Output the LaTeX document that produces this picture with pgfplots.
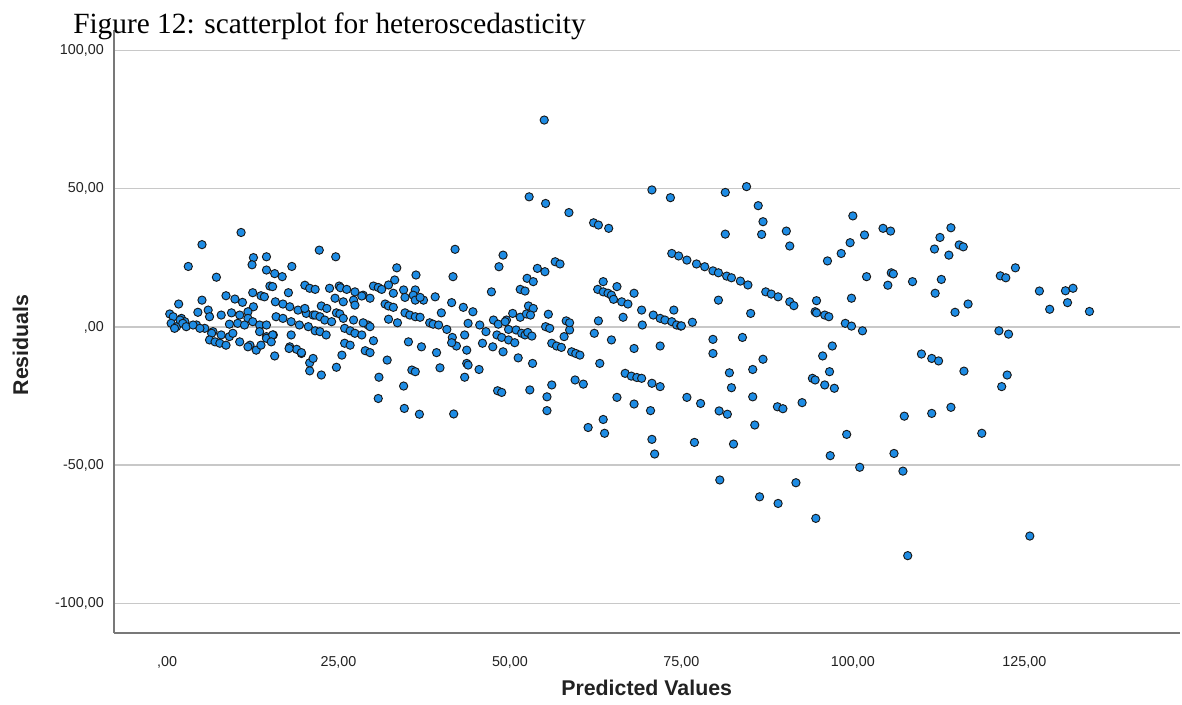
\documentclass[border=0pt]{standalone}
\usepackage{fontspec}
\setmainfont{Liberation Sans}
\newfontfamily\titlefont{Liberation Serif}
\usepackage{pgfplots}
\pgfplotsset{compat=1.18}
\usepackage{pgfplotstable}
\definecolor{ptfill}{RGB}{30,140,228}
\definecolor{ptedge}{RGB}{25,25,25}
\definecolor{gridc}{RGB}{200,200,200}
\definecolor{spinec}{RGB}{120,120,120}
\definecolor{tickc}{RGB}{34,34,34}

\pgfplotstableread{
x y
10.8 34.2
5.1 29.8
3.1 21.9
7.2 18.0
12.6 25.1
12.4 22.5
14.5 25.4
18.2 21.9
14.5 20.6
15.7 19.3
16.8 18.2
15.0 14.8
15.4 14.6
17.7 12.4
20.1 15.1
20.8 14.0
1.7 8.3
5.1 9.7
8.6 11.3
9.9 10.1
11.0 8.9
12.5 12.4
13.7 11.3
14.2 10.9
12.6 7.3
15.8 9.1
16.9 8.3
17.9 7.3
19.1 6.1
20.3 4.9
21.3 4.3
4.5 5.3
6.0 6.1
0.4 4.7
0.9 3.7
0.6 1.3
1.4 0.1
2.1 3.1
2.6 1.9
6.2 3.7
7.9 4.3
9.4 5.1
10.6 4.3
11.8 5.5
11.8 3.1
4.3 0.7
5.5 -0.5
6.7 -1.7
7.9 -2.9
9.1 -3.5
10.6 -5.4
12.1 -6.6
9.1 1.0
10.3 1.3
11.3 0.7
12.5 1.9
13.5 0.7
14.5 0.7
15.9 3.7
16.9 3.1
18.1 1.9
19.3 0.7
20.6 0.1
13.5 -1.7
14.5 -3.5
15.5 -2.9
18.1 -2.9
17.9 -7.2
18.9 -8.1
1.9 2.5
2.3 1.3
2.8 0.1
1.1 -0.5
3.8 0.7
4.8 -0.5
6.5 -2.3
6.2 -4.7
7.0 -5.4
7.7 -5.9
8.6 -6.6
9.6 -2.3
11.8 -7.2
13.0 -8.4
13.7 -6.6
14.5 -4.1
15.4 -2.9
15.2 -5.4
15.7 -10.5
17.8 -7.8
19.6 -9.6
22.2 27.8
24.6 25.4
33.5 21.4
36.3 18.8
33.2 17.0
42.0 28.1
41.7 18.2
47.3 12.7
21.6 13.6
23.7 14.0
25.1 14.8
25.3 14.2
26.2 13.6
27.4 12.7
28.6 11.5
29.6 10.4
24.5 10.4
25.7 9.1
27.2 9.7
27.4 7.9
28.4 11.2
30.1 14.8
30.8 14.3
31.3 13.6
32.3 15.2
33.0 12.2
34.5 13.4
36.2 13.4
37.4 9.7
39.1 10.9
31.8 8.3
32.3 7.6
33.0 7.1
34.7 10.7
35.9 11.5
36.2 9.7
36.9 10.7
34.7 5.1
35.4 4.3
36.2 3.7
36.9 3.5
32.3 2.8
33.6 1.5
40.0 5.1
41.5 8.8
43.2 7.1
44.6 5.5
38.3 1.5
38.8 1.0
39.6 0.7
40.8 -0.9
41.6 -3.8
42.2 -6.9
41.5 -5.7
43.9 1.3
45.6 0.7
46.5 -1.7
46.0 -5.9
47.5 -7.2
43.4 -2.9
43.7 -8.4
43.7 -13.2
43.9 -13.8
45.5 -15.4
43.4 -18.2
48.2 -23.1
41.8 -31.5
20.1 6.7
21.6 4.3
22.3 3.7
23.0 2.5
24.0 1.9
22.5 7.6
23.3 6.7
24.7 5.1
25.2 4.7
21.6 -1.4
22.3 -1.7
23.2 -2.9
25.9 -0.5
26.7 -1.4
27.4 -2.3
28.4 -2.9
29.3 0.7
29.6 0.1
25.7 3.1
27.2 2.5
28.6 1.5
25.9 -5.9
26.7 -6.6
28.9 -8.6
29.6 -9.3
30.1 -5.0
19.6 -9.3
20.8 -13.0
20.8 -15.9
21.3 -11.4
22.5 -17.4
24.7 -14.6
25.5 -10.2
32.1 -12.0
30.9 -18.2
30.8 -25.9
35.2 -5.4
37.1 -7.2
39.3 -9.3
39.8 -14.8
35.7 -15.6
36.2 -16.2
34.5 -21.4
34.6 -29.5
36.8 -31.6
55.0 74.9
52.8 47.1
55.2 44.7
58.6 41.4
62.2 37.7
62.9 36.9
64.4 35.7
70.7 49.6
73.4 46.8
49.0 26.0
48.4 21.8
54.0 21.2
55.1 20.0
56.6 23.6
57.3 22.8
52.5 17.6
53.4 16.4
51.5 13.6
52.2 13.0
52.7 7.6
53.4 6.7
50.4 4.9
49.5 2.5
47.6 2.5
51.5 3.5
52.4 4.7
53.0 4.3
55.6 4.6
73.6 26.6
74.6 25.7
62.8 13.6
63.6 12.7
64.3 12.2
64.8 11.5
63.6 16.4
65.6 14.6
68.1 12.2
65.1 10.0
66.3 9.1
67.2 8.3
69.2 6.1
70.9 4.3
71.9 3.1
72.6 2.5
73.6 1.9
74.3 0.7
74.9 0.3
73.9 6.1
66.5 3.5
69.3 0.7
62.9 2.2
62.3 -2.3
64.8 -4.7
68.1 -7.8
71.9 -6.9
48.3 1.0
49.3 1.9
49.8 -0.9
50.9 -1.1
51.7 -2.3
52.2 -2.9
48.1 -2.9
48.8 -3.8
49.8 -4.7
50.7 -5.7
49.0 -9.0
51.2 -11.2
53.3 -13.2
52.6 -2.0
53.2 -3.3
55.2 0.1
55.8 -0.5
58.7 -1.1
58.2 2.2
58.7 1.5
57.9 -3.5
56.1 -5.9
56.8 -6.9
57.5 -7.4
59.0 -9.0
59.6 -9.6
60.2 -10.2
56.1 -21.0
55.4 -25.3
55.4 -30.3
52.9 -22.8
48.8 -23.7
59.5 -19.2
60.7 -20.7
63.1 -13.2
66.8 -16.8
67.7 -17.8
68.5 -18.3
69.2 -18.6
70.7 -20.4
71.9 -21.6
65.6 -25.5
68.1 -27.9
70.5 -30.3
61.4 -36.4
63.6 -33.5
63.8 -38.5
70.7 -40.7
71.1 -46.0
81.4 48.7
84.5 50.8
86.2 43.9
86.9 38.1
81.4 33.6
86.7 33.5
90.3 34.7
90.8 29.3
100.0 40.2
101.7 33.3
99.6 30.5
98.3 26.6
96.3 23.9
102.0 18.2
99.8 10.4
75.8 24.2
77.2 22.8
78.4 21.8
79.6 20.3
80.4 19.6
81.6 18.4
82.3 17.8
83.6 16.6
84.7 15.2
87.3 12.7
88.1 11.9
89.1 10.9
90.8 9.1
91.4 7.7
80.4 9.7
85.1 4.9
94.7 9.5
94.5 5.5
94.7 5.1
95.9 4.3
96.5 3.7
76.6 1.7
75.0 0.4
98.9 1.3
99.8 0.3
101.4 -1.4
79.6 -4.5
79.6 -9.6
83.9 -3.8
97.0 -6.9
95.6 -10.5
86.9 -11.7
85.4 -15.4
82.0 -16.6
82.3 -22.0
85.4 -25.3
85.7 -35.5
94.1 -18.6
94.5 -19.2
95.9 -21.0
97.3 -22.2
96.6 -16.2
75.8 -25.5
77.8 -27.7
80.5 -30.4
81.7 -31.6
92.6 -27.4
89.0 -28.9
89.8 -29.6
76.9 -41.8
82.6 -42.4
99.1 -38.9
96.7 -46.6
101.0 -50.8
80.6 -55.4
86.4 -61.5
89.1 -63.9
91.7 -56.4
94.6 -69.3
104.4 35.7
105.5 34.7
114.3 35.9
112.7 32.4
111.9 28.2
114.0 26.0
115.5 29.7
116.1 29.0
105.6 19.6
105.9 19.2
105.1 15.1
108.7 16.4
112.9 17.2
112.0 12.2
114.9 5.3
116.8 8.3
121.5 18.5
122.3 17.8
123.7 21.4
127.2 13.0
128.7 6.4
131.0 13.1
132.1 14.0
131.3 8.8
134.5 5.6
121.3 -1.4
122.7 -2.6
110.0 -9.8
111.5 -11.4
112.5 -12.3
116.2 -16.0
122.5 -17.4
121.7 -21.6
107.5 -32.3
111.5 -31.3
114.3 -29.1
118.8 -38.5
106.0 -45.8
107.3 -52.2
125.8 -75.7
108.0 -82.8
}\resdata

\begin{document}
\begin{tikzpicture}[x=1pt,y=1pt]
\useasboundingbox (0,0) rectangle (886.5,528);
\begin{axis}[
  at={(85.5pt,53.25pt)}, anchor=south west,
  scale only axis,
  width=799.5pt, height=452.25pt,
  xmin=-7.73, xmax=147.7,
  ymin=-110.8, ymax=107.5,
  axis lines*=left,
  axis line style={-, draw=spinec, line width=1pt},
  major tick length=0pt,
  xtick={0,25,50,75,100,125},
  xticklabels={{,00},{25,00},{50,00},{75,00},{100,00},{125,00}},
  ytick={-100,-50,0,50,100},
  yticklabels={{-100,00},{-50,00},{,00},{50,00},{100,00}},
  xticklabel style={font=\fontsize{10.75}{12}\selectfont, text=tickc, anchor=north, inner sep=0pt, yshift=-17.25pt},
  yticklabel style={font=\fontsize{10.75}{12}\selectfont, text=tickc, anchor=east, inner sep=0pt, xshift=-7.5pt},
  ymajorgrids=true,
  grid style={draw=gridc, line width=1pt},
  clip=true,
]
\addplot[only marks, mark=*, mark size=3.1pt,
  mark options={fill=ptfill, draw=ptedge, line width=0.7pt}]
  table[x=x, y=y] {\resdata};
\end{axis}
\node[anchor=base west, inner sep=0pt, font=\titlefont\fontsize{22}{26}\selectfont] at (54.75,502.5) {Figure 12: scatterplot for heteroscedasticity};
\node[anchor=center, inner sep=0pt, font=\bfseries\fontsize{16}{19}\selectfont, text=tickc] at (485,12) {Predicted Values};
\node[anchor=center, inner sep=0pt, rotate=90, font=\bfseries\fontsize{16}{19}\selectfont, text=tickc] at (15.4,269.25) {Residuals};
\end{tikzpicture}
\end{document}
